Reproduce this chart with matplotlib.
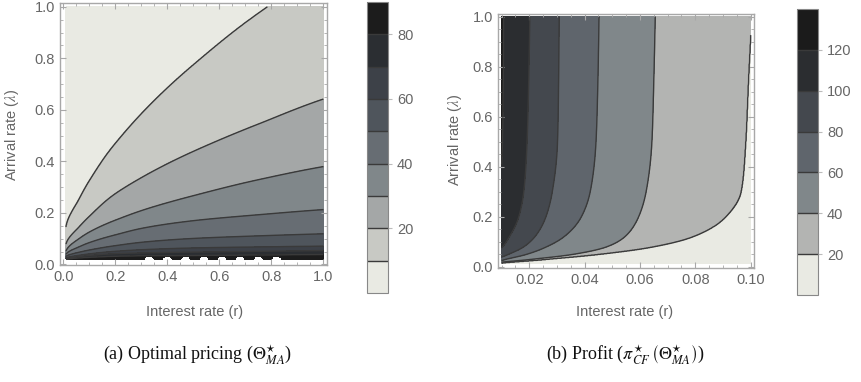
import numpy as np
import matplotlib
matplotlib.use("Agg")
import matplotlib.pyplot as plt
from matplotlib.ticker import MultipleLocator

plt.rcParams['font.family'] = ['Liberation Sans', 'DejaVu Sans']
plt.rcParams['mathtext.fontset'] = 'stix'

# --- (a) optimal pricing: arrival rate of each contour level, sampled along r ---
theta_r = [0.01, 0.05, 0.1, 0.2, 0.3, 0.5, 0.75, 1.0]
lam_10 = [0.145, 0.235, 0.325, 0.470, 0.585, 0.775, 0.975, 1.140]
lam_20 = [0.079, 0.135, 0.187, 0.275, 0.337, 0.439, 0.545, 0.642]
lam_30 = [0.052, 0.093, 0.126, 0.172, 0.209, 0.267, 0.329, 0.380]
lam_40 = [0.040, 0.064, 0.085, 0.115, 0.140, 0.170, 0.193, 0.213]
lam_50 = [0.031, 0.045, 0.056, 0.073, 0.086, 0.101, 0.111, 0.119]
lam_60 = [0.025, 0.034, 0.041, 0.051, 0.057, 0.064, 0.068, 0.071]
lam_70 = [0.022, 0.029, 0.035, 0.042, 0.045, 0.048, 0.051, 0.054]
lam_80 = [0.020, 0.025, 0.028, 0.032, 0.034, 0.035, 0.037, 0.039]
theta_levels = [10, 20, 30, 40, 50, 60, 70, 80]
theta_floor = 0.019
notch_r = [0.33, 0.40, 0.47, 0.54, 0.61, 0.68, 0.75, 0.82]
notch_top = 0.032

# --- (b) profit: interest rate of each contour level, sampled along lambda ---
profit_lam = [0.005, 0.015, 0.03, 0.05, 0.08, 0.12, 0.2, 0.3, 0.5, 0.75, 1.0]
r_120 = [0.0010, 0.0014, 0.0020, 0.0030, 0.0045, 0.0060, 0.0078, 0.0093, 0.0103, 0.0106, 0.0107]
r_100 = [0.0020, 0.0031, 0.0049, 0.0074, 0.0104, 0.0128, 0.0162, 0.0180, 0.0192, 0.0198, 0.0202]
r_80 = [0.0030, 0.0050, 0.0080, 0.0125, 0.0180, 0.0220, 0.0260, 0.0283, 0.0302, 0.0306, 0.0308]
r_60 = [0.0040, 0.0067, 0.0115, 0.0190, 0.0262, 0.0325, 0.0388, 0.0420, 0.0441, 0.0448, 0.0452]
r_40 = [0.0050, 0.0075, 0.0210, 0.0360, 0.0480, 0.0545, 0.0595, 0.0622, 0.0643, 0.0650, 0.0655]
r_20 = [0.0060, 0.0100, 0.0260, 0.0450, 0.0647, 0.0790, 0.0910, 0.0965, 0.0982, 0.0992, 0.1003]
profit_levels = [120, 100, 80, 60, 40, 20]

theta_colors = ['#e9eae3', '#c8c9c4', '#a4a7a7', '#80878a', '#676d73',
                '#4f555c', '#3d4148', '#2b2e32', '#1c1c1c']
profit_colors = ['#e9eae3', '#b3b4b2', '#80878a', '#5f656c', '#44484e',
                 '#2b2d30', '#1b1b1b']
frame_col = '#a8a8a8'
text_col = '#666666'
line_col = '#3a3a3a'


def pchip(x, xp, fp):
    # monotone cubic (Fritsch-Carlson) so the sampled curves stay smooth
    xp = np.asarray(xp, float)
    fp = np.asarray(fp, float)
    h = np.diff(xp)
    d = np.diff(fp) / h
    m = np.zeros_like(fp)
    m[0], m[-1] = d[0], d[-1]
    for k in range(1, len(xp) - 1):
        if d[k - 1] * d[k] > 0:
            w1 = 2 * h[k] + h[k - 1]
            w2 = h[k] + 2 * h[k - 1]
            m[k] = (w1 + w2) / (w1 / d[k - 1] + w2 / d[k])
    x = np.asarray(x, float)
    i = np.clip(np.searchsorted(xp, x) - 1, 0, len(xp) - 2)
    t = (x - xp[i]) / h[i]
    h00 = 2 * t**3 - 3 * t**2 + 1
    h10 = t**3 - 2 * t**2 + t
    h01 = -2 * t**3 + 3 * t**2
    h11 = t**3 - t**2
    return h00 * fp[i] + h10 * h[i] * m[i] + h01 * fp[i + 1] + h11 * h[i] * m[i + 1]


# field for (a): interpolate level against log(lambda) in each column
ra = np.linspace(0.01, 1.0, 500)
la = np.linspace(0.017, 1.0, 700)
theta_curves = [lam_80, lam_70, lam_60, lam_50, lam_40, lam_30, lam_20, lam_10]
curve_at_r = np.array([pchip(np.log(ra), np.log(theta_r), c) for c in theta_curves])
theta = np.empty((la.size, ra.size))
for i in range(ra.size):
    xp = np.log(np.concatenate([[0.005], curve_at_r[:, i], [10.0]]))
    fp = [100] + theta_levels[::-1] + [0]
    theta[:, i] = np.interp(np.log(la), xp, fp)
theta = np.clip(theta, 0, 89.9)
RA, LA = np.meshgrid(ra, la)
cut = LA < theta_floor
for c in notch_r:
    cut |= ((RA - c) / 0.018) ** 2 + ((LA - theta_floor) / (notch_top - theta_floor)) ** 2 < 1
theta = np.ma.masked_where(cut, theta)

# field for (b): interpolate level against r in each row
rb = np.linspace(0.01, 0.1, 500)
lb = np.linspace(0.013, 1.0, 700)
profit_curves = [r_120, r_100, r_80, r_60, r_40, r_20]
curve_at_lam = np.array([pchip(np.log(lb), np.log(profit_lam), c) for c in profit_curves])
profit = np.empty((lb.size, rb.size))
for j in range(lb.size):
    xp = np.concatenate([[0.0], curve_at_lam[:, j], [0.5]])
    fp = [160] + profit_levels + [0]
    profit[j, :] = np.interp(rb, xp, fp)
profit = np.clip(profit, 0, 139.9)
RB, LB = np.meshgrid(rb, lb)

fig = plt.figure(figsize=(8.61, 3.82), dpi=100)
ax1 = fig.add_axes([0.0697, 0.3063, 0.3101, 0.6867])
cax1 = fig.add_axes([0.4263, 0.2330, 0.0244, 0.7618])
ax2 = fig.add_axes([0.5784, 0.2976, 0.2973, 0.6657])
cax2 = fig.add_axes([0.9257, 0.2277, 0.0244, 0.7487])


def style_frame(ax, xmaj, xmin, ymaj, ymin):
    for s in ax.spines.values():
        s.set_color(frame_col)
        s.set_linewidth(1.0)
    ax.xaxis.set_major_locator(MultipleLocator(xmaj))
    ax.xaxis.set_minor_locator(MultipleLocator(xmin))
    ax.yaxis.set_major_locator(MultipleLocator(ymaj))
    ax.yaxis.set_minor_locator(MultipleLocator(ymin))
    ax.tick_params(which='both', direction='in', top=True, right=True,
                   color=frame_col, labelcolor=text_col, labelsize=10.5)
    ax.tick_params(which='major', length=4, width=0.8)
    ax.tick_params(which='minor', length=2, width=0.6)


def style_cbar(cb, ticks):
    cb.set_ticks(ticks)
    cb.outline.set_edgecolor('#888888')
    cb.outline.set_linewidth(0.8)
    cb.ax.tick_params(length=3, color='#bbbbbb', labelcolor=text_col, labelsize=10.5)


lev_a = np.arange(0, 100, 10)
cs1 = ax1.contourf(RA, LA, theta, levels=lev_a, colors=theta_colors)
cl1 = ax1.contour(RA, LA, theta, levels=theta_levels, colors=line_col, linewidths=1.0)
ax1.set_xlim(-0.013, 1.014)
ax1.set_ylim(-0.002, 1.016)
style_frame(ax1, 0.2, 0.05, 0.2, 0.05)
cb1 = fig.colorbar(cs1, cax=cax1)
cb1.add_lines(cl1)
style_cbar(cb1, [20, 40, 60, 80])

lev_b = np.arange(0, 160, 20)
cs2 = ax2.contourf(RB, LB, profit, levels=lev_b, colors=profit_colors)
cl2 = ax2.contour(RB, LB, profit, levels=profit_levels[::-1], colors=line_col, linewidths=1.0)
ax2.set_xlim(0.0087, 0.1012)
ax2.set_ylim(-0.006, 1.011)
style_frame(ax2, 0.02, 0.005, 0.2, 0.05)
cb2 = fig.colorbar(cs2, cax=cax2)
cb2.add_lines(cl2)
style_cbar(cb2, [20, 40, 60, 80, 100, 120])

for x in (195 / 861, 625 / 861):
    fig.text(x, 1 - 312 / 382, 'Interest rate (r)', ha='center', va='center',
             color=text_col, fontsize=10.5)
fig.text(12 / 861, 1 - 135 / 382, r'Arrival rate ($\lambda$)', rotation=90,
         ha='center', va='center', color=text_col, fontsize=10.5)
fig.text(455 / 861, 1 - 140 / 382, r'Arrival rate ($\lambda$)', rotation=90,
         ha='center', va='center', color=text_col, fontsize=10.5)

cap = dict(ha='center', va='center', color='#111111', fontsize=13,
           family=['Liberation Serif', 'DejaVu Serif'])
fig.text(197 / 861, 1 - 355 / 382, r'(a) Optimal pricing ($\Theta^{\star}_{MA}$)', **cap)
fig.text(625 / 861, 1 - 355 / 382,
         r'(b) Profit ($\pi^{\star}_{CF}\,\left(\Theta^{\star}_{MA}\right)$)', **cap)

fig.savefig('out.png', dpi=100)
